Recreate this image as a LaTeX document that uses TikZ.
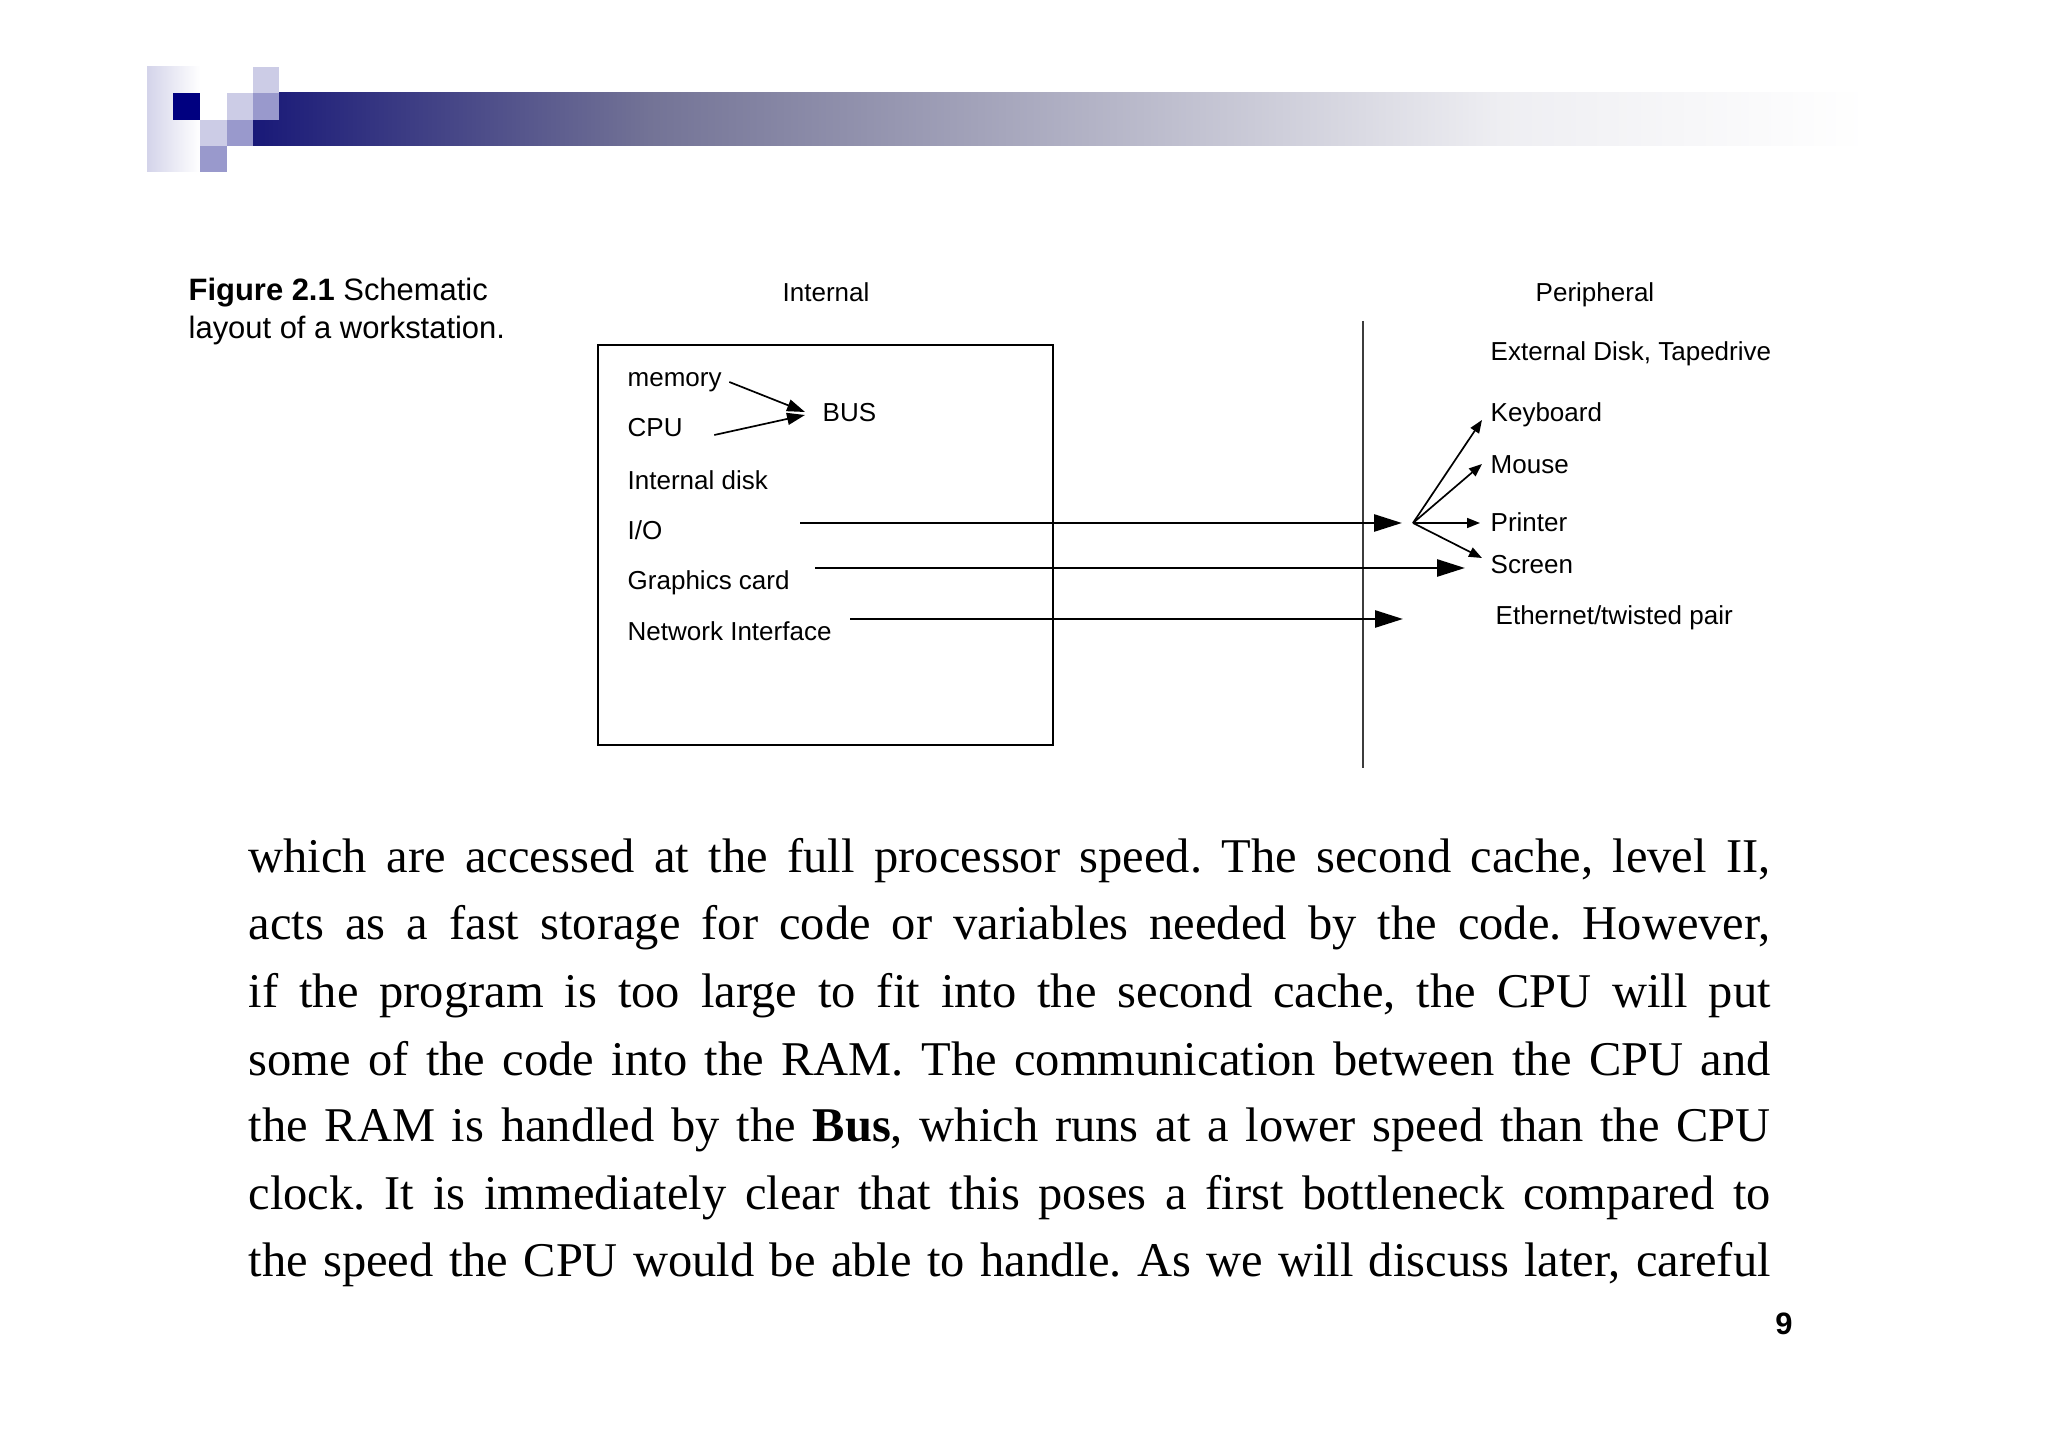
\documentclass[tikz,border=0pt]{standalone}
\usepackage{fontspec}
\setmainfont{Liberation Serif}
\setsansfont{Liberation Sans}
\usetikzlibrary{calc, arrows.meta}

\definecolor{navy}{RGB}{0,0,128}
\definecolor{lavlight}{RGB}{204,204,230}
\definecolor{lavmid}{RGB}{153,153,204}
\definecolor{barA}{RGB}{25,25,120}
\definecolor{barB}{RGB}{115,115,150}
\definecolor{barC}{RGB}{238,238,242}
\definecolor{sepgray}{RGB}{60,60,60}

\begin{document}
\frenchspacing
\begin{tikzpicture}[
    lbl/.style={font=\sffamily\fontsize{7.4}{8.8}\selectfont, inner sep=0pt, anchor=base west},
    hdr/.style={font=\sffamily\fontsize{7.4}{8.8}\selectfont, inner sep=0pt, anchor=base},
    bigarrow/.style={-{Triangle[length=2.8mm, width=1.7mm]}, line width=0.27mm},
    busarrow/.style={-{Triangle[length=1.8mm, width=1.2mm]}, line width=0.17mm},
    smallarrow/.style={-{Triangle[length=1.3mm, width=1.0mm]}, line width=0.17mm},
    bodyline/.style={font=\fontsize{13.8}{19}\selectfont, inner sep=0pt, anchor=base west},
    captxt/.style={font=\sffamily\fontsize{8.8}{12.5}\selectfont, inner sep=0pt, anchor=base west}
]
    \useasboundingbox (0,0) rectangle (20.48,14.48);

    % ================= SLIDE HEADER =================
    \shade[left color=lavlight!85, right color=white] (1.47,12.76) rectangle (2.00,13.81);
    \shade[left color=barA, right color=barB] (2.53,13.02) rectangle (6.50,13.55);
    \shade[left color=barB, right color=barC] (6.49,13.02) rectangle (15.00,13.55);
    \shade[left color=barC, right color=white] (14.99,13.02) rectangle (18.68,13.55);
    \fill[navy] (1.73,13.28) rectangle (2.00,13.55);
    \fill[lavlight] (2.53,13.55) rectangle (2.79,13.81);
    \fill[lavlight] (2.27,13.28) rectangle (2.53,13.55);
    \fill[lavlight] (2.00,13.02) rectangle (2.27,13.28);
    \fill[lavmid] (2.53,13.28) rectangle (2.79,13.55);
    \fill[lavmid] (2.27,13.02) rectangle (2.53,13.28);
    \fill[lavmid] (2.00,12.76) rectangle (2.27,13.02);

    % ================= CAPTION =================
    \node[captxt] (capA) at (1.88,11.47) {\textbf{Figure 2.1} Schematic};
    \node[captxt] (capB) at (1.88,11.09) {layout of a workstation.};

    % ================= INTERNAL SIDE =================
    \node[hdr] (internal) at (8.26,11.46) {Internal};
    \node[draw, line width=0.2mm, minimum width=4.55cm, minimum height=4cm, inner sep=0pt] (wsbox) at (8.255,9.03) {};

    \node[lbl] (memory) at (6.27,10.61) {memory};
    \node[lbl] (cpu) at (6.27,10.11) {CPU};
    \node[lbl] (idisk) at (6.27,9.58) {Internal disk};
    \node[lbl] (io) at (6.27,9.08) {I/O};
    \node[lbl] (gcard) at (6.27,8.58) {Graphics card};
    \node[lbl] (netif) at (6.27,8.07) {Network Interface};
    \node[lbl] (bus) at (8.22,10.26) {BUS};

    % ================= PERIPHERAL SIDE =================
    \node[hdr] (peripheral) at (15.95,11.46) {Peripheral};
    \coordinate (sepTop) at (13.63,11.27);
    \coordinate (sepBot) at (13.63,6.80);
    \draw[sepgray, line width=0.2mm] (sepTop) -- (sepBot);

    \node[lbl] (extdisk) at (14.90,10.87) {External Disk, Tapedrive};
    \node[lbl] (keyboard) at (14.90,10.26) {Keyboard};
    \node[lbl] (mouse) at (14.90,9.74) {Mouse};
    \node[lbl] (printer) at (14.90,9.16) {Printer};
    \node[lbl] (screen) at (14.90,8.74) {Screen};
    \node[lbl] (ethernet) at (14.95,8.23) {Ethernet/twisted pair};

    % ================= CONNECTIONS =================
    \draw[busarrow] ($(memory.base east)+(0.07,0.05)$) -- ($(bus.base west)+(-0.17,0.10)$);
    \draw[busarrow] ($(cpu.base east)+(0.31,0.02)$) -- ($(bus.base west)+(-0.17,0.07)$);

    \coordinate (ioFrom) at (8.00,9.25);
    \coordinate (fan) at (14.13,9.25);
    \draw[bigarrow, shorten >=0.11cm] (ioFrom) -- (fan);

    \coordinate (gcFrom) at (8.15,8.80);
    \coordinate (gcTo) at (14.65,8.80);
    \draw[bigarrow] (gcFrom) -- (gcTo);

    \coordinate (niFrom) at (8.50,8.29);
    \coordinate (niTo) at (14.03,8.29);
    \draw[bigarrow] (niFrom) -- (niTo);

    % I/O fan-out to devices
    \draw[smallarrow] (fan) -- ($(keyboard.base west)+(-0.08,0.02)$);
    \draw[smallarrow] (fan) -- ($(mouse.base west)+(-0.08,0.10)$);
    \draw[smallarrow] (fan) -- ($(printer.base west)+(-0.10,0.09)$);
    \draw[smallarrow] (fan) -- ($(screen.base west)+(-0.08,0.16)$);

    % ================= BODY TEXT =================
    \node[bodyline] (line1) at (2.48,5.75) {\makebox[15.22cm][s]{which are accessed at the full processor speed. The second cache, level II,}};
    \node[bodyline] (line2) at (2.48,5.08) {\makebox[15.22cm][s]{acts as a fast storage for code or variables needed by the code. However,}};
    \node[bodyline] (line3) at (2.48,4.40) {\makebox[15.22cm][s]{if the program is too large to fit into the second cache, the CPU will put}};
    \node[bodyline] (line4) at (2.48,3.73) {\makebox[15.22cm][s]{some of the code into the RAM. The communication between the CPU and}};
    \node[bodyline] (line5) at (2.48,3.06) {\makebox[15.22cm][s]{the RAM is handled by the \textbf{Bus}, which runs at a lower speed than the CPU}};
    \node[bodyline] (line6) at (2.48,2.38) {\makebox[15.22cm][s]{clock. It is immediately clear that this poses a first bottleneck compared to}};
    \node[bodyline] (line7) at (2.48,1.71) {\makebox[15.22cm][s]{the speed the CPU would be able to handle. As we will discuss later, careful}};

    \node[font=\sffamily\bfseries\fontsize{8.8}{10}\selectfont, inner sep=0pt, anchor=base] (pagenum) at (17.84,1.13) {9};

\end{tikzpicture}
\end{document}
